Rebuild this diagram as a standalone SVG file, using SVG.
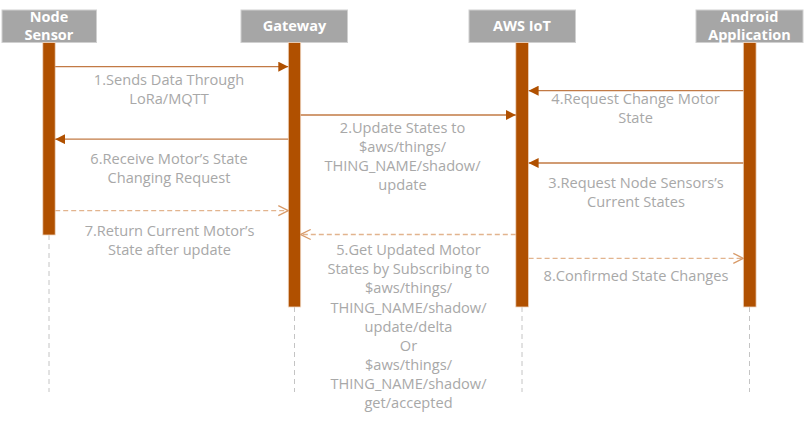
<svg xmlns="http://www.w3.org/2000/svg" width="805" height="421" viewBox="0 0 805 421">
<defs>
<style>
.hdr{fill:#A6A6A6;stroke:#D0D0D0;stroke-width:1}
.ht{font-family:"Open Sans","Noto Sans",sans-serif;font-weight:bold;font-size:14.5px;fill:#FFFFFF;text-anchor:middle}
.bar{fill:#B05000;stroke:#F0D8C4;stroke-width:0.8}
.life{stroke:#C4C4C4;stroke-width:1;stroke-dasharray:5 4;fill:none}
.msg{stroke:#C27A45;stroke-width:1.3;fill:none}
.ret{stroke:#E2B48E;stroke-width:1.3;stroke-dasharray:5 3;fill:none}
.lbl{font-family:"Open Sans","Noto Sans",sans-serif;font-size:14.6px;fill:#A8A8A8;text-anchor:middle}
</style>
<marker id="fa" viewBox="0 0 10 10" refX="10" refY="5" markerWidth="10" markerHeight="10" markerUnits="userSpaceOnUse" orient="auto">
<path d="M0,0 L10,5 L0,10 z" fill="#B05000"/>
</marker>
<marker id="oa" viewBox="0 0 12 12" refX="11" refY="6" markerWidth="12" markerHeight="12" markerUnits="userSpaceOnUse" orient="auto">
<path d="M1,1 L11,6 L1,11" fill="none" stroke="#D89A68" stroke-width="1.3"/>
</marker>
</defs>
<rect width="805" height="421" fill="#FFFFFF"/>

<g id="lifelines">
<line class="life" x1="49" y1="235" x2="49" y2="392"/>
<line class="life" x1="294.5" y1="307" x2="294.5" y2="392"/>
<line class="life" x1="522" y1="307" x2="522" y2="392"/>
<line class="life" x1="749.5" y1="307" x2="749.5" y2="392"/>
</g>

<g id="node-sensor">
<rect class="hdr" x="2" y="10" width="94.5" height="32.5"/>
<text class="ht" x="49" y="21.5">Node</text>
<text class="ht" x="49" y="40">Sensor</text>
<rect class="bar" x="42.8" y="42.5" width="12.4" height="192.5"/>
</g>

<g id="gateway">
<rect class="hdr" x="241" y="10" width="106.5" height="32.5"/>
<text class="ht" x="294.5" y="30.5">Gateway</text>
<rect class="bar" x="288.3" y="42.5" width="12.4" height="264.5"/>
</g>

<g id="aws-iot">
<rect class="hdr" x="469" y="10" width="106.5" height="32.5"/>
<text class="ht" x="522" y="30.5">AWS IoT</text>
<rect class="bar" x="515.8" y="42.5" width="12.8" height="264.5"/>
</g>

<g id="android-application">
<rect class="hdr" x="696" y="10" width="107" height="32.5"/>
<text class="ht" x="749.5" y="21.5">Android</text>
<text class="ht" x="749.5" y="40">Application</text>
<rect class="bar" x="743.3" y="42.5" width="12.8" height="264.5"/>
</g>

<g id="connectors">
<line class="msg" x1="55.2" y1="66.7" x2="288.3" y2="66.7" marker-end="url(#fa)"/>
<line class="msg" x1="743.3" y1="90.7" x2="528.6" y2="90.7" marker-end="url(#fa)"/>
<line class="msg" x1="300.7" y1="115" x2="515.8" y2="115" marker-end="url(#fa)"/>
<line class="msg" x1="288.3" y1="139.2" x2="55.2" y2="139.2" marker-end="url(#fa)"/>
<line class="msg" x1="743.3" y1="163" x2="528.6" y2="163" marker-end="url(#fa)"/>
<line class="ret" x1="55.2" y1="210.7" x2="288.3" y2="210.7" marker-end="url(#oa)"/>
<line class="ret" x1="515.8" y1="234.5" x2="300.7" y2="234.5" marker-end="url(#oa)"/>
<line class="ret" x1="528.6" y1="258.3" x2="743.3" y2="258.3" marker-end="url(#oa)"/>
</g>

<g id="labels">
<text class="lbl" x="169" y="85">1.Sends Data Through</text>
<text class="lbl" x="169" y="104">LoRa/MQTT</text>
<text class="lbl" x="635.5" y="104">4.Request Change Motor</text>
<text class="lbl" x="635.5" y="122.5">State</text>
<text class="lbl" x="402.5" y="132.5">2.Update States to</text>
<text class="lbl" x="402.5" y="151.5">$aws/things/</text>
<text class="lbl" x="402.5" y="171">THING_NAME/shadow/</text>
<text class="lbl" x="402.5" y="190">update</text>
<text class="lbl" x="169" y="164.3">6.Receive Motor’s State</text>
<text class="lbl" x="169" y="183.3">Changing Request</text>
<text class="lbl" x="636" y="188.3">3.Request Node Sensors’s</text>
<text class="lbl" x="636" y="206.7">Current States</text>
<text class="lbl" x="169.5" y="236">7.Return Current Motor’s</text>
<text class="lbl" x="169.5" y="255">State after update</text>
<text class="lbl" x="408.5" y="255">5.Get Updated Motor</text>
<text class="lbl" x="408.5" y="274">States by Subscribing to</text>
<text class="lbl" x="408.5" y="293">$aws/things/</text>
<text class="lbl" x="408.5" y="312.5">THING_NAME/shadow/</text>
<text class="lbl" x="408.5" y="331.5">update/delta</text>
<text class="lbl" x="408.5" y="350.5">Or</text>
<text class="lbl" x="408.5" y="369.5">$aws/things/</text>
<text class="lbl" x="408.5" y="389">THING_NAME/shadow/</text>
<text class="lbl" x="408.5" y="408">get/accepted</text>
<text class="lbl" x="636" y="281">8.Confirmed State Changes</text>
</g>
</svg>
